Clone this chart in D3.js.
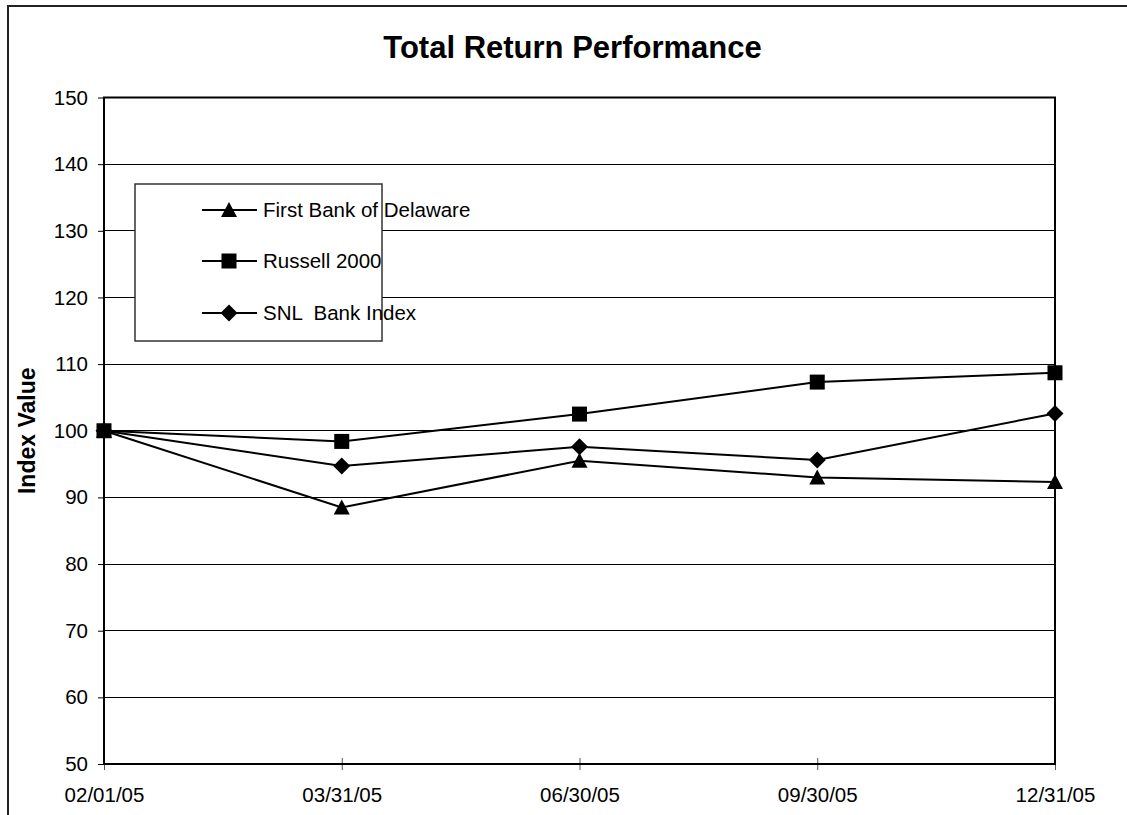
<!DOCTYPE html>
<html>
<head>
<meta charset="utf-8">
<script src="https://cdn.jsdelivr.net/npm/d3@7/dist/d3.min.js"></script>
<style>
  html, body { margin: 0; padding: 0; background: #fff; }
  svg { display: block; font-family: "Liberation Sans", Arial, sans-serif; }
</style>
</head>
<body>
<svg id="chart" width="1127" height="815"></svg>
<script>
const dates = ["02/01/05", "03/31/05", "06/30/05", "09/30/05", "12/31/05"];
const firstBank = [100, 88.5, 95.5, 93.0, 92.3];
const russell = [100, 98.4, 102.5, 107.3, 108.7];
const snl = [100, 94.7, 97.6, 95.6, 102.6];
const yTicks = [50, 60, 70, 80, 90, 100, 110, 120, 130, 140, 150];
const seriesNames = ["First Bank of Delaware", "Russell 2000", "SNL  Bank Index"];
const seriesShapes = ["triangle", "square", "diamond"];

const svg = d3.select("#chart");
const L = 104, R = 1055, T = 97.5, B = 764;

const x = d3.scalePoint().domain(dates).range([L, R]);
const y = d3.scaleLinear().domain([50, 150]).range([B, T]);

// outer frame (clipped by page)
svg.append("rect").attr("x", 8).attr("y", 6).attr("width", 1200).attr("height", 900)
  .attr("fill", "none").attr("stroke", "#222").attr("stroke-width", 2);

// title
svg.append("text").attr("x", 572.5).attr("y", 57.5)
  .attr("text-anchor", "middle").attr("font-size", 31).attr("font-weight", "bold")
  .text("Total Return Performance");

// gridlines
svg.append("g").selectAll("line").data(yTicks.filter(v => v !== 50 && v !== 150)).join("line")
  .attr("x1", L).attr("x2", R).attr("y1", d => y(d)).attr("y2", d => y(d))
  .attr("stroke", "#000").attr("stroke-width", 1).attr("shape-rendering", "crispEdges");

// y axis
const yAxis = d3.axisLeft(y).tickValues(yTicks).tickSize(6).tickPadding(10).tickFormat(d3.format("d"));
const gy = svg.append("g").attr("transform", `translate(${L},0)`).call(yAxis);
gy.select(".domain").remove();
gy.selectAll(".tick line").attr("stroke", "#000");
gy.selectAll(".tick text").attr("font-size", 20.5).attr("fill", "#000")
  .attr("font-family", "Liberation Sans, Arial, sans-serif");

// x axis
const xAxis = d3.axisBottom(x).tickSize(6).tickPadding(17);
const gx = svg.append("g").attr("transform", `translate(0,${B})`).call(xAxis);
gx.select(".domain").remove();
gx.selectAll(".tick line").attr("y1", -6).attr("y2", 6).attr("stroke", "#555");
gx.selectAll(".tick text").attr("font-size", 20.5).attr("fill", "#000")
  .attr("font-family", "Liberation Sans, Arial, sans-serif");

// plot frame
svg.append("rect").attr("x", L).attr("y", T).attr("width", R - L).attr("height", B - T)
  .attr("fill", "none").attr("stroke", "#000").attr("stroke-width", 2);

// y label
svg.append("text").attr("transform", `translate(35,${(T + B) / 2}) rotate(-90)`)
  .attr("text-anchor", "middle").attr("font-size", 23).attr("font-weight", "bold")
  .text("Index Value");

function marker(g, shape) {
  if (shape === "triangle") {
    g.append("path").attr("d", "M0,-8 L8,7 L-8,7 Z").attr("fill", "#000");
  } else if (shape === "square") {
    g.append("rect").attr("x", -7.5).attr("y", -7.5).attr("width", 15).attr("height", 15).attr("fill", "#000");
  } else {
    g.append("path").attr("d", "M0,-8.5 L8.5,0 L0,8.5 L-8.5,0 Z").attr("fill", "#000");
  }
}

const allSeries = [firstBank, russell, snl];
const line = d3.line().x((d, i) => x(dates[i])).y(d => y(d));
allSeries.forEach((vals, si) => {
  svg.append("path").datum(vals).attr("d", line)
    .attr("fill", "none").attr("stroke", "#000").attr("stroke-width", 2);
});
allSeries.forEach((vals, si) => {
  vals.forEach((v, i) => {
    const g = svg.append("g").attr("transform", `translate(${x(dates[i])},${y(v)})`);
    marker(g, seriesShapes[si]);
  });
});

// legend
const lg = svg.append("g");
lg.append("rect").attr("x", 135).attr("y", 184).attr("width", 247).attr("height", 157)
  .attr("fill", "#fff").attr("stroke", "#333").attr("stroke-width", 1.5);
const rowsY = [210, 261, 313];
seriesNames.forEach((name, i) => {
  lg.append("line").attr("x1", 202).attr("x2", 257).attr("y1", rowsY[i]).attr("y2", rowsY[i])
    .attr("stroke", "#000").attr("stroke-width", 2);
  const g = lg.append("g").attr("transform", `translate(229,${rowsY[i]})`);
  marker(g, seriesShapes[i]);
  lg.append("text").attr("x", 263).attr("y", rowsY[i]).attr("dy", "0.36em")
    .attr("font-size", 20.5).attr("xml:space", "preserve").style("white-space", "pre").text(name);
});
</script>
</body>
</html>
